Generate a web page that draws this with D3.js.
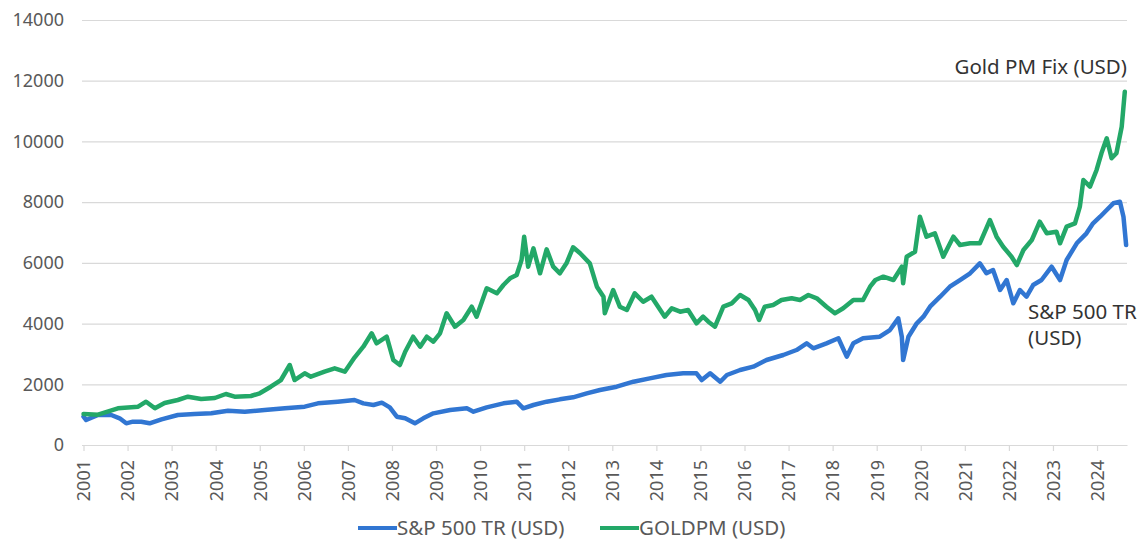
<!DOCTYPE html>
<html>
<head>
<meta charset="utf-8">
<script src="https://cdn.jsdelivr.net/npm/d3@7"></script>
<style>
  body { margin: 0; background: #fff; }
  svg { display: block; font-family: "Noto Sans", sans-serif; }
</style>
</head>
<body>
<div class="svgs"></div>
<script>
// values (year as decimal, index base 1000)
const years = d3.range(2001, 2025)
const yTicks = [0, 2000, 4000, 6000, 8000, 10000, 12000, 14000]

const goldDates = [2001.00, 2001.33, 2001.78, 2002.24, 2002.42, 2002.62, 2002.84, 2003.14, 2003.37, 2003.67,
  2003.98, 2004.23, 2004.43, 2004.80, 2005.00, 2005.25, 2005.48, 2005.68, 2005.79, 2006.02,
  2006.16, 2006.47, 2006.70, 2006.93, 2007.15, 2007.35, 2007.54, 2007.65, 2007.88, 2008.03,
  2008.18, 2008.30, 2008.48, 2008.64, 2008.79, 2008.94, 2009.09, 2009.24, 2009.43, 2009.62,
  2009.81, 2009.92, 2010.15, 2010.38, 2010.53, 2010.68, 2010.83, 2010.94, 2011.00, 2011.09,
  2011.21, 2011.36, 2011.51, 2011.66, 2011.81, 2011.96, 2012.11, 2012.27, 2012.49, 2012.65,
  2012.80, 2012.83, 2013.02, 2013.17, 2013.33, 2013.51, 2013.70, 2013.89, 2014.04, 2014.19,
  2014.35, 2014.54, 2014.72, 2014.91, 2015.06, 2015.18, 2015.33, 2015.52, 2015.71, 2015.90,
  2016.09, 2016.24, 2016.33, 2016.46, 2016.65, 2016.84, 2017.07, 2017.26, 2017.45, 2017.64,
  2017.86, 2018.05, 2018.24, 2018.47, 2018.69, 2018.85, 2018.97, 2019.15, 2019.38, 2019.57,
  2019.60, 2019.68, 2019.87, 2019.98, 2020.13, 2020.32, 2020.51, 2020.74, 2020.89, 2021.12,
  2021.34, 2021.57, 2021.72, 2021.87, 2022.06, 2022.18, 2022.33, 2022.52, 2022.70, 2022.86,
  2023.08, 2023.16, 2023.31, 2023.50, 2023.61, 2023.69, 2023.84, 2023.99, 2024.10, 2024.22,
  2024.33, 2024.44, 2024.56, 2024.63]
const goldValues = [1020, 1000, 1208, 1262, 1427, 1210, 1383, 1482, 1591, 1515,
  1548, 1680, 1591, 1614, 1703, 1920, 2141, 2635, 2141, 2361,
  2250, 2415, 2526, 2415, 2880, 3238, 3680, 3350, 3567, 2800,
  2635, 3073, 3567, 3238, 3567, 3403, 3680, 4338, 3897, 4118,
  4556, 4226, 5162, 4997, 5270, 5491, 5600, 6094, 6862, 5873,
  6479, 5656, 6446, 5873, 5656, 5985, 6512, 6315, 5985, 5214,
  4885, 4338, 5106, 4556, 4447, 4997, 4720, 4885, 4556, 4226,
  4503, 4391, 4447, 4009, 4226, 4062, 3897, 4556, 4667, 4941,
  4776, 4447, 4118, 4556, 4612, 4776, 4832, 4776, 4941, 4832,
  4556, 4338, 4503, 4776, 4776, 5214, 5435, 5544, 5435, 5873,
  5326, 6203, 6367, 7520, 6862, 6973, 6203, 6862, 6588, 6644,
  6644, 7412, 6862, 6532, 6203, 5929, 6423, 6753, 7356, 6973,
  7026, 6644, 7191, 7303, 7850, 8729, 8509, 9059, 9609, 10103,
  9444, 9609, 10485, 11638]

const spxDates = [2001.00, 2001.06, 2001.33, 2001.63, 2001.82, 2001.97, 2002.12, 2002.31, 2002.50, 2002.77,
  2003.14, 2003.52, 2003.90, 2004.28, 2004.66, 2005.11, 2005.57, 2006.02, 2006.32, 2006.77,
  2007.15, 2007.35, 2007.58, 2007.77, 2007.95, 2008.11, 2008.30, 2008.52, 2008.71, 2008.94,
  2009.32, 2009.70, 2009.85, 2010.15, 2010.53, 2010.83, 2010.98, 2011.21, 2011.51, 2011.81,
  2012.11, 2012.42, 2012.72, 2013.10, 2013.48, 2013.85, 2014.23, 2014.61, 2014.91, 2015.03,
  2015.22, 2015.45, 2015.60, 2015.90, 2016.20, 2016.50, 2016.88, 2017.18, 2017.41, 2017.56,
  2017.86, 2018.13, 2018.32, 2018.47, 2018.69, 2019.07, 2019.30, 2019.49, 2019.57, 2019.60,
  2019.72, 2019.91, 2020.06, 2020.21, 2020.44, 2020.66, 2020.89, 2021.12, 2021.34, 2021.49,
  2021.64, 2021.80, 2021.95, 2022.10, 2022.25, 2022.40, 2022.55, 2022.74, 2022.97, 2023.16,
  2023.31, 2023.54, 2023.76, 2023.91, 2024.07, 2024.22, 2024.37, 2024.52, 2024.60, 2024.66]
const spxValues = [932, 823, 988, 988, 879, 714, 768, 768, 714, 846,
  988, 1021, 1043, 1130, 1097, 1153, 1208, 1262, 1372, 1427,
  1482, 1372, 1318, 1394, 1241, 932, 879, 714, 879, 1043,
  1153, 1208, 1097, 1241, 1372, 1427, 1208, 1318, 1427, 1504,
  1570, 1702, 1812, 1920, 2085, 2196, 2306, 2361, 2361, 2141,
  2361, 2085, 2306, 2470, 2580, 2800, 2965, 3129, 3350, 3185,
  3350, 3515, 2910, 3350, 3515, 3567, 3788, 4173, 3567, 2800,
  3567, 4009, 4226, 4556, 4885, 5214, 5435, 5656, 5985, 5656,
  5765, 5106, 5435, 4667, 5106, 4885, 5270, 5435, 5873, 5435,
  6094, 6644, 6973, 7303, 7520, 7741, 7962, 8015, 7520, 6588]

const seriesNames = ["S&P 500 TR (USD)", "GOLDPM (USD)"]
const seriesColors = ["#3176d2", "#23a868"]

const W = 1139, H = 541
const margin = {top: 20, right: 12, bottom: 96, left: 83.5}

const gold = goldDates.map((d, i) => ({date: d, value: goldValues[i]}))
const spx = spxDates.map((d, i) => ({date: d, value: spxValues[i]}))

const x = d3.scaleLinear()
    .domain([2001, 2024.68])
    .range([margin.left, W - margin.right])

const y = d3.scaleLinear()
    .domain([0, 14000])
    .range([H - margin.bottom, margin.top])

const svg = d3.create("svg")
    .attr("width", W)
    .attr("height", H)
    .attr("viewBox", [0, 0, W, H])

// y grid + labels
svg.append("g")
    .attr("transform", `translate(${margin.left - 1.5},0)`)
    .call(d3.axisLeft(y).tickValues(yTicks).tickFormat(d3.format("d"))
        .tickSize(-(W - margin.right - margin.left + 1.5)).tickPadding(18))
    .call(g => g.select(".domain").remove())
    .call(g => g.selectAll(".tick line").attr("stroke", "#d9d9d9").attr("stroke-width", 1.2))
    .call(g => g.selectAll(".tick text")
        .attr("fill", "#595959")
        .style("font-size", "18px")
        .style("font-family", "'Noto Sans', sans-serif"))

// x axis
svg.append("g")
    .attr("transform", `translate(0,${y(0)})`)
    .call(d3.axisBottom(x).tickValues(years).tickFormat(d3.format("d")).tickSize(6).tickSizeOuter(0))
    .call(g => g.select(".domain").attr("stroke", "#d9d9d9").attr("stroke-width", 1.2))
    .call(g => g.selectAll(".tick line").attr("stroke", "#d9d9d9").attr("stroke-width", 1.2))
    .call(g => g.selectAll(".tick text")
        .attr("fill", "#595959")
        .style("font-size", "18px")
        .style("font-family", "'Noto Sans', sans-serif")
        .attr("transform", "rotate(-90)")
        .attr("text-anchor", "end")
        .attr("dy", "0.35em")
        .attr("x", -15)
        .attr("y", 0))

const line = d3.line()
    .x(d => x(d.date))
    .y(d => y(d.value))

svg.append("path")
    .datum(spx)
    .attr("fill", "none")
    .attr("stroke", seriesColors[0])
    .attr("stroke-width", 4.5)
    .attr("stroke-linejoin", "round")
    .attr("stroke-linecap", "round")
    .attr("d", line)

svg.append("path")
    .datum(gold)
    .attr("fill", "none")
    .attr("stroke", seriesColors[1])
    .attr("stroke-width", 4.5)
    .attr("stroke-linejoin", "round")
    .attr("stroke-linecap", "round")
    .attr("d", line)

// end labels
svg.append("text")
    .attr("x", W - margin.right)
    .attr("y", 74)
    .attr("text-anchor", "end")
    .attr("fill", "#333")
    .style("font-size", "20.5px")
    .text("Gold PM Fix (USD)")

const spxLabel = svg.append("text")
    .attr("x", 1028)
    .attr("y", 319)
    .attr("fill", "#333")
    .style("font-size", "20.5px")
spxLabel.append("tspan").attr("x", 1028).text("S&P 500 TR")
spxLabel.append("tspan").attr("x", 1028).attr("dy", 26).text("(USD)")

// legend
const legendX = [358, 600]
const legend = svg.append("g").attr("transform", `translate(0,${H - 13})`)
seriesNames.forEach((name, i) => {
    legend.append("line")
        .attr("x1", legendX[i]).attr("x2", legendX[i] + 39)
        .attr("stroke", seriesColors[i])
        .attr("stroke-width", 4)
    legend.append("text")
        .attr("x", legendX[i] + 39)
        .attr("dy", "0.35em")
        .attr("fill", "#595959")
        .style("font-size", "20.5px")
        .text(name)
})

document.querySelector(".svgs").appendChild(svg.node())
</script>
</body>
</html>
